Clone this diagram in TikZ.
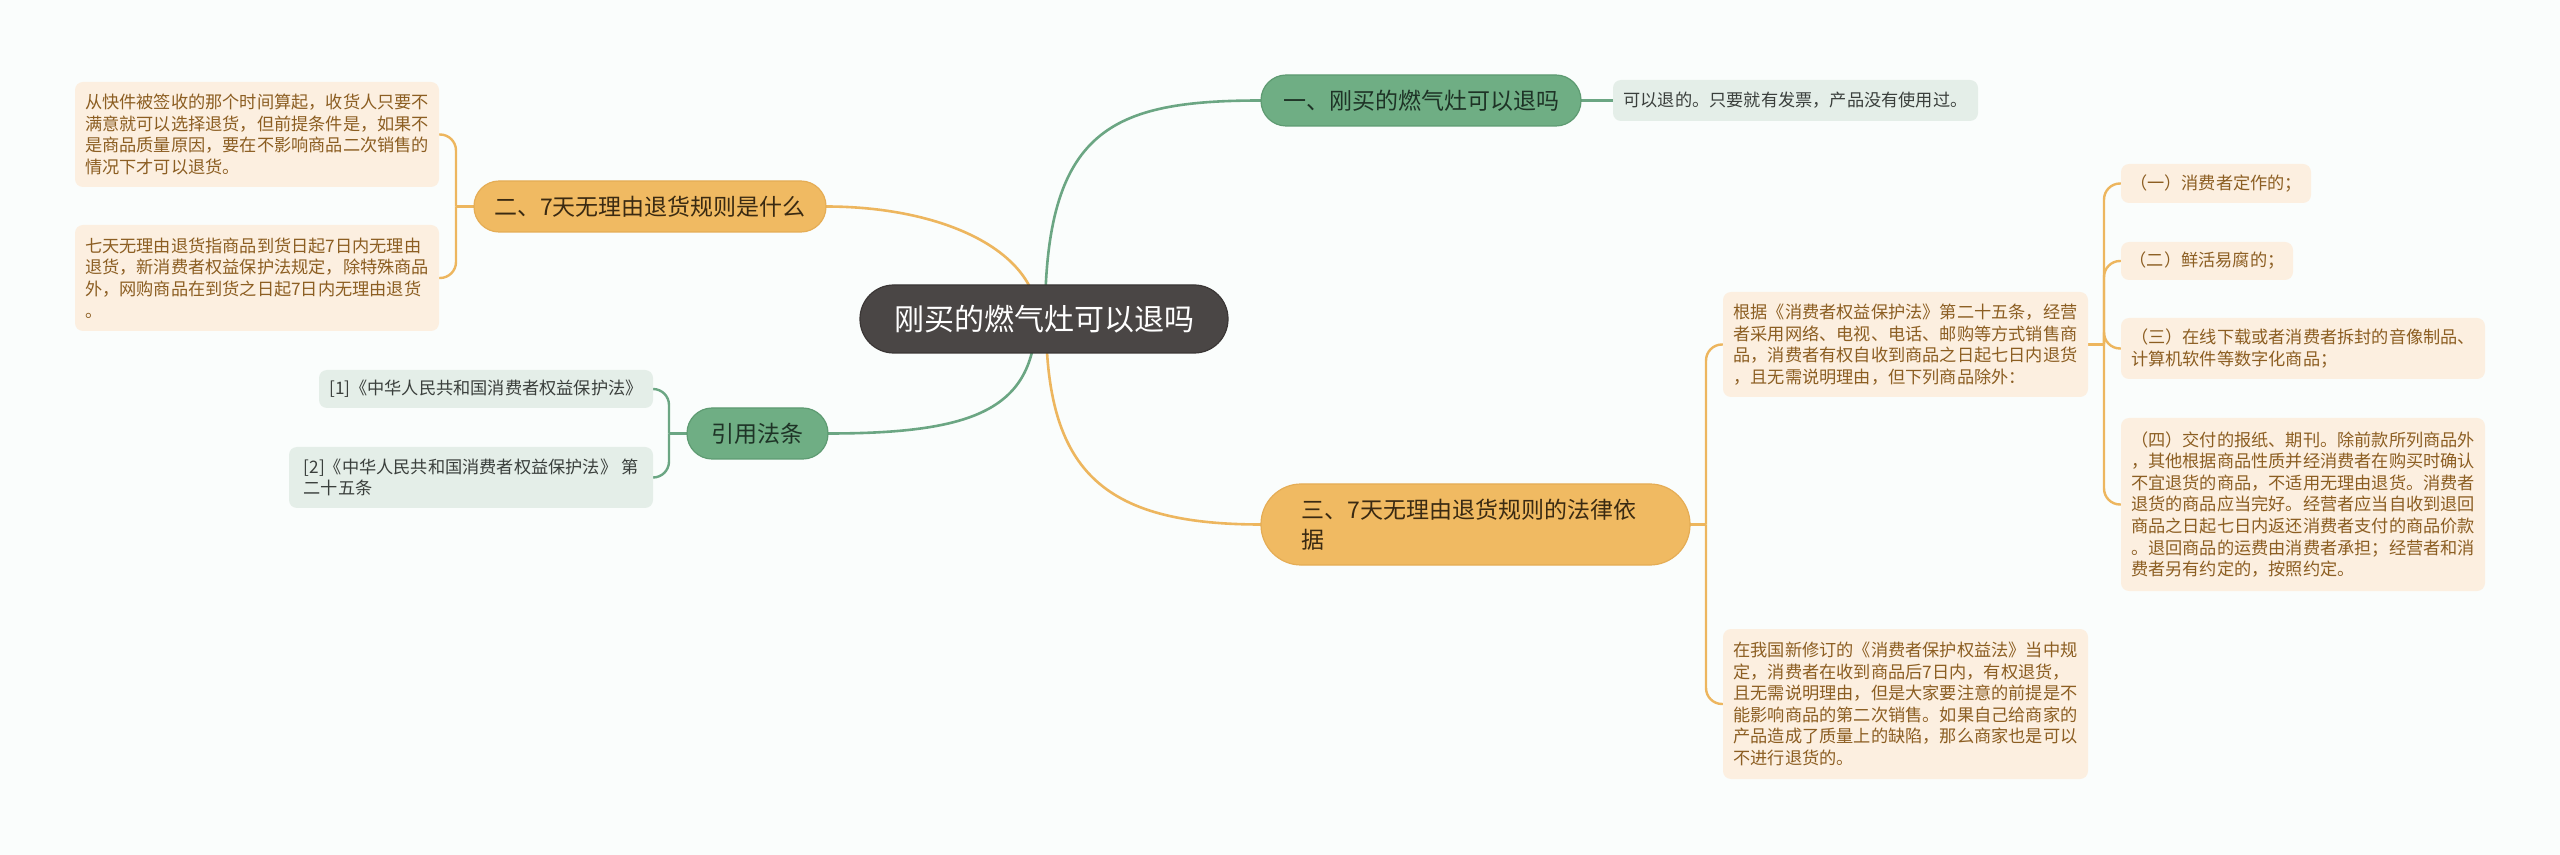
\documentclass[tikz,border=0pt]{standalone}
\usepackage{fontspec}
\setmainfont{Noto Sans CJK SC}
\usetikzlibrary{calc}
\pgfdeclarelayer{back}
\pgfdeclarelayer{bg}
\pgfsetlayers{back,bg,main}
\definecolor{bgc}{HTML}{FAFDFC}
\definecolor{rootc}{HTML}{4A4645}
\definecolor{rootd}{HTML}{3A3635}
\definecolor{gtop}{HTML}{6FAE84}
\definecolor{gtopd}{HTML}{5E9B72}
\definecolor{gtext}{HTML}{1E3326}
\definecolor{gleafc}{HTML}{E4EEE8}
\definecolor{gltext}{HTML}{3A3F3C}
\definecolor{glinec}{HTML}{6BA683}
\definecolor{otop}{HTML}{F0BA62}
\definecolor{otopd}{HTML}{E5AD55}
\definecolor{otext}{HTML}{3A2A12}
\definecolor{oleafc}{HTML}{FCEFE0}
\definecolor{oltext}{HTML}{8C5E22}
\definecolor{olinec}{HTML}{EDB65E}
\begin{document}
\begin{tikzpicture}[x=0.5pt,y=-0.5pt,
  every node/.style={inner sep=0pt, outer sep=0pt},
  rootbox/.style={fill=rootc, draw=rootd, line width=0.6pt, rounded corners=16.9pt, text=white, font=\fontsize{15}{18}\selectfont},
  gtopic/.style={fill=gtop, draw=gtopd, line width=0.6pt, rounded corners=12.6pt, text=gtext, font=\fontsize{11.5}{15}\selectfont},
  otopic/.style={fill=otop, draw=otopd, line width=0.6pt, rounded corners=12.6pt, text=otext, font=\fontsize{11.5}{15}\selectfont},
  gleaf/.style={fill=gleafc, rounded corners=4pt, text=gltext, font=\fontsize{8.6}{10.8}\selectfont, align=left},
  oleaf/.style={fill=oleafc, rounded corners=4pt, text=oltext, font=\fontsize{8.6}{10.8}\selectfont, align=left},
  gline/.style={draw=glinec, line width=1.3pt},
  oline/.style={draw=olinec, line width=1.3pt},
  gbr/.style={draw=glinec, line width=1.2pt, rounded corners=8pt},
  obr/.style={draw=olinec, line width=1.2pt, rounded corners=8pt},
]
\begin{pgfonlayer}{back}
\fill[bgc] (0,0) rectangle (2560,855);
\end{pgfonlayer}
\useasboundingbox (0,0) rectangle (2560,855);

% root
\node[rootbox, minimum width=184pt, minimum height=34pt] (root) at (1044,319) {刚买的燃气灶可以退吗};

% branch 1
\node[gtopic, minimum width=160pt, minimum height=25.5pt] (t1) at (1421,100.5) {一、刚买的燃气灶可以退吗};
\node[gleaf, minimum width=182.5pt, minimum height=20.5pt] (l1) at (1795.5,100.5) {可以退的。只要就有发票，产品没有使用过。};

% branch 2
\node[otopic, minimum width=176pt, minimum height=25.5pt] (t2) at (650,206.5) {二、7天无理由退货规则是什么};
\node[oleaf, minimum width=182pt, minimum height=52.5pt] (a1) at (257,134.5) {从快件被签收的那个时间算起，收货人只要不\\满意就可以选择退货，但前提条件是，如果不\\是商品质量原因，要在不影响商品二次销售的\\情况下才可以退货。};
\node[oleaf, minimum width=182pt, minimum height=53pt] (a2) at (257,278) {七天无理由退货指商品到货日起7日内无理由\\退货，新消费者权益保护法规定，除特殊商品\\外，网购商品在到货之日起7日内无理由退货\\。};

% branch 4 (citations)
\node[gtopic, minimum width=70.5pt, minimum height=25.5pt] (t4) at (757.5,433.5) {引用法条};
\node[gleaf, minimum width=167pt, minimum height=19pt] (c1) at (486,389) {[1]《中华人民共和国消费者权益保护法》};
\node[gleaf, minimum width=182pt, minimum height=30.5pt] (c2) at (471,477.5) {[2]《中华人民共和国消费者权益保护法》 第\\二十五条};

% branch 3
\node[otopic, minimum width=214.5pt, minimum height=40.5pt, rounded corners=20.1pt, text width=174pt, align=left] (t3) at (1475.5,524.5) {三、7天无理由退货规则的法律依\\据};
\node[oleaf, minimum width=182.5pt, minimum height=52.5pt] (n1) at (1905.5,344.5) {根据《消费者权益保护法》第二十五条，经营\\者采用网络、电视、电话、邮购等方式销售商\\品，消费者有权自收到商品之日起七日内退货\\，且无需说明理由，但下列商品除外：};
\node[oleaf, minimum width=182.5pt, minimum height=75pt] (n2) at (1905.5,704) {在我国新修订的《消费者保护权益法》当中规\\定，消费者在收到商品后7日内，有权退货，\\且无需说明理由，但是大家要注意的前提是不\\能影响商品的第二次销售。如果自己给商家的\\产品造成了质量上的缺陷，那么商家也是可以\\不进行退货的。};
\node[oleaf, minimum width=95pt, minimum height=19.5pt] (s1) at (2216,183.5) {（一）消费者定作的；};
\node[oleaf, minimum width=86pt, minimum height=19pt] (s2) at (2207,261) {（二）鲜活易腐的；};
\node[oleaf, minimum width=182pt, minimum height=30.5pt] (s3) at (2303,348.5) {（三）在线下载或者消费者拆封的音像制品、\\计算机软件等数字化商品；};
\node[oleaf, minimum width=182pt, minimum height=86.5pt] (s4) at (2303,504.5) {（四）交付的报纸、期刊。除前款所列商品外\\，其他根据商品性质并经消费者在购买时确认\\不宜退货的商品，不适用无理由退货。消费者\\退货的商品应当完好。经营者应当自收到退回\\商品之日起七日内返还消费者支付的商品价款\\。退回商品的运费由消费者承担；经营者和消\\费者另有约定的，按照约定。};

% junctions
\coordinate (j2) at (456,206.5);
\coordinate (j4) at (669,433.5);
\coordinate (j3) at (1706,524.5);
\coordinate (j5) at (2104,344.5);

\begin{pgfonlayer}{bg}
% root connectors
\draw[gline] ([xshift=0.5pt]root.center) .. controls +(0,-190) and +(-150,0) .. (t1.west);
\draw[oline] ([xshift=-3pt]root.center) .. controls +(-2,-70) and +(114,0) .. (t2.east);
\draw[gline] ([xshift=-4pt]root.center) .. controls +(-2,90) and +(147,0) .. (t4.east);
\draw[oline] ([xshift=1pt]root.center) .. controls +(0,150) and +(-161,0) .. (t3.west);
% branch 1
\draw[gline] (t1.east) -- (l1.west);
% branch 2
\draw[obr] (t2.west) -- (j2);
\draw[obr] (j2) |- (a1.east);
\draw[obr] (j2) |- (a2.east);
% branch 4
\draw[gbr] (t4.west) -- (j4);
\draw[gbr] (j4) |- (c1.east);
\draw[gbr] (j4) |- (c2.east);
% branch 3
\draw[obr] (t3.east) -- (j3);
\draw[obr] (j3) |- (n1.west);
\draw[obr] (j3) |- (n2.west);
\draw[obr] (n1.east) -- (j5);
\draw[obr] (j5) |- (s1.west);
\draw[obr] (j5) |- (s2.west);
\draw[obr] (j5) |- (s3.west);
\draw[obr] (j5) |- (s4.west);
\end{pgfonlayer}
\end{tikzpicture}
\end{document}
